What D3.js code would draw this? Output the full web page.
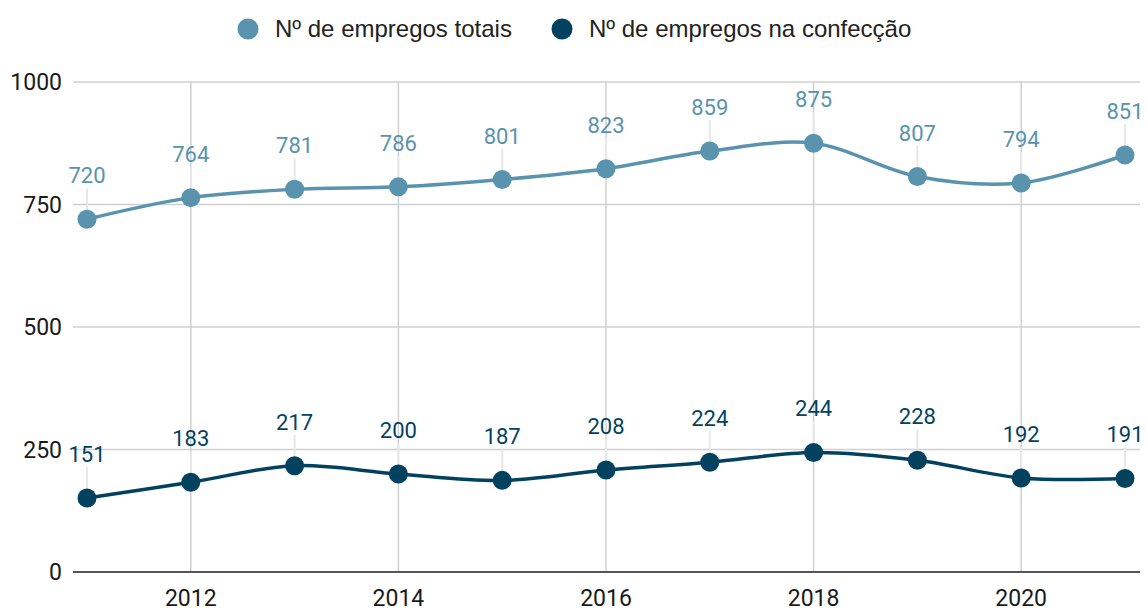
<!DOCTYPE html>
<html>
<head>
<meta charset="utf-8">
<script src="https://cdn.jsdelivr.net/npm/d3@7"></script>
<style>
  body { margin: 0; background: #fff; font-family: Roboto, sans-serif; }
</style>
</head>
<body>
<div id="chart"></div>
<script>
var years = [2011, 2012, 2013, 2014, 2015, 2016, 2017, 2018, 2019, 2020, 2021];
var totais = [720, 764, 781, 786, 801, 823, 859, 875, 807, 794, 851];
var confeccao = [151, 183, 217, 200, 187, 208, 224, 244, 228, 192, 191];
var yTicks = [0, 250, 500, 750, 1000];
var xTicks = [2012, 2014, 2016, 2018, 2020];
var seriesNames = ['Nº de empregos totais', 'Nº de empregos na confecção'];
var colors = ['#5993ae', '#02425f'];

var width = 1146, height = 611;
var plotLeft = 73, plotRight = 1140, plotTop = 82, plotBottom = 572;

var svg = d3.select('#chart').append('svg')
    .attr('width', width)
    .attr('height', height);

var x = d3.scaleLinear().domain([2011, 2021]).range([87, 1125]);
var y = d3.scaleLinear().domain([0, 1000]).range([plotBottom, plotTop]);

// horizontal grid
svg.append('g').selectAll('line')
    .data(yTicks.filter(function(d) { return d > 0; }))
    .enter().append('line')
    .attr('x1', plotLeft).attr('x2', plotRight)
    .attr('y1', function(d) { return y(d); })
    .attr('y2', function(d) { return y(d); })
    .style('stroke', '#d0d0d0')
    .style('stroke-width', 1.5);

// vertical grid
svg.append('g').selectAll('line')
    .data(xTicks)
    .enter().append('line')
    .attr('x1', function(d) { return x(d); })
    .attr('x2', function(d) { return x(d); })
    .attr('y1', plotTop).attr('y2', plotBottom)
    .style('stroke', '#d0d0d0')
    .style('stroke-width', 1.5);

// baseline
svg.append('line')
    .attr('x1', plotLeft).attr('x2', plotRight)
    .attr('y1', y(0)).attr('y2', y(0))
    .style('stroke', '#555')
    .style('stroke-width', 2);

// y labels
svg.append('g').selectAll('text')
    .data(yTicks)
    .enter().append('text')
    .attr('x', 62)
    .attr('y', function(d) { return y(d) + 8; })
    .attr('text-anchor', 'end')
    .style('font-size', '23px')
    .style('fill', '#1a1a1a')
    .text(function(d) { return d; });

// x labels
svg.append('g').selectAll('text')
    .data(xTicks)
    .enter().append('text')
    .attr('x', function(d) { return x(d); })
    .attr('y', 606)
    .attr('text-anchor', 'middle')
    .style('font-size', '23px')
    .style('fill', '#1a1a1a')
    .text(function(d) { return d; });

var line = d3.line()
    .x(function(d, i) { return x(years[i]); })
    .y(function(d) { return y(d); })
    .curve(d3.curveCatmullRom.alpha(0.5));

[totais, confeccao].forEach(function(vals, s) {
    var g = svg.append('g');
    // leader lines
    g.selectAll('line.lead')
        .data(vals)
        .enter().append('line')
        .attr('class', 'lead')
        .attr('x1', function(d, i) { return x(years[i]); })
        .attr('x2', function(d, i) { return x(years[i]); })
        .attr('y1', function(d) { return y(d) - 31; })
        .attr('y2', function(d) { return y(d) - 6; })
        .style('stroke', '#e8e8e8')
        .style('stroke-width', 2);
    g.append('path')
        .datum(vals)
        .attr('d', line)
        .style('fill', 'none')
        .style('stroke', colors[s])
        .style('stroke-width', 3.5);
    g.selectAll('circle')
        .data(vals)
        .enter().append('circle')
        .attr('cx', function(d, i) { return x(years[i]); })
        .attr('cy', function(d) { return y(d); })
        .attr('r', 9.5)
        .style('fill', colors[s]);
    g.selectAll('text')
        .data(vals)
        .enter().append('text')
        .attr('x', function(d, i) { return x(years[i]); })
        .attr('y', function(d) { return y(d) - 36; })
        .attr('text-anchor', 'middle')
        .style('font-size', '22px')
        .style('fill', colors[s])
        .text(function(d) { return d; });
});

// legend
var legendX = [248, 562];
var legend = svg.append('g');
seriesNames.forEach(function(name, i) {
    legend.append('circle')
        .attr('cx', legendX[i])
        .attr('cy', 29)
        .attr('r', 10.5)
        .style('fill', colors[i]);
    legend.append('text')
        .attr('x', legendX[i] + 27)
        .attr('y', 37)
        .style('font-family', '"Liberation Sans", Arial, sans-serif')
        .style('font-size', '24px')
        .style('fill', '#222')
        .text(name);
});
</script>
</body>
</html>
